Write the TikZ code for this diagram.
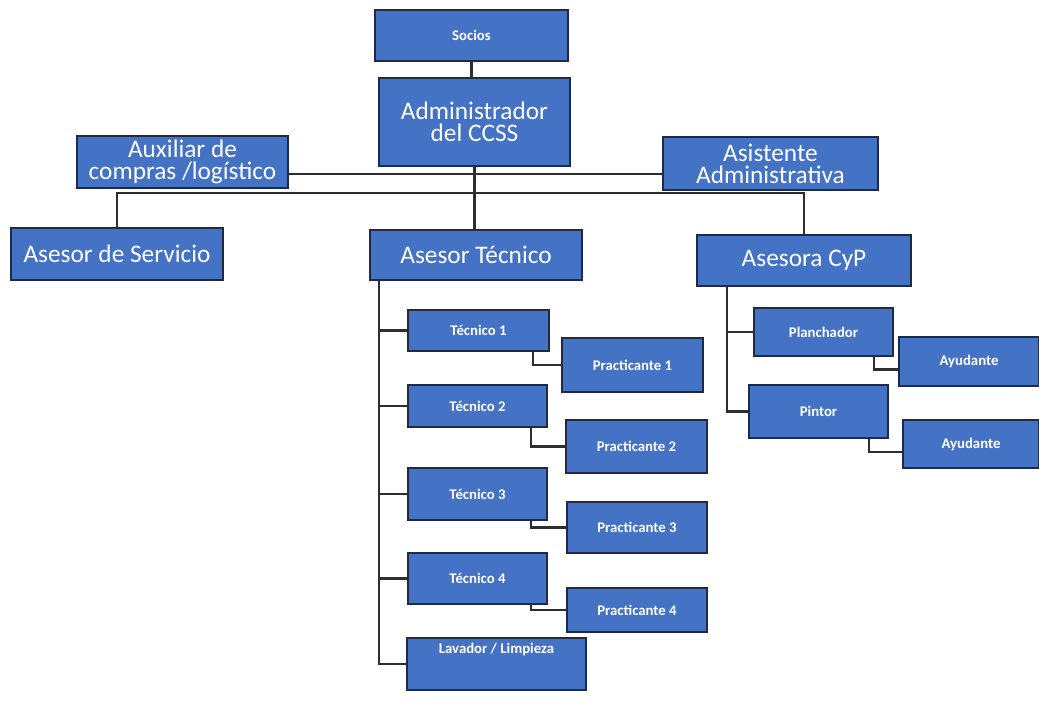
\documentclass[tikz,border=0pt]{standalone}
\usepackage{fontspec}
\setmainfont{Carlito}
\definecolor{cardblue}{HTML}{4472C4}
\definecolor{cardedge}{HTML}{1F2A44}
\definecolor{wire}{HTML}{2E2E2E}

\begin{document}
\begin{tikzpicture}[x=0.025cm, y=-0.025cm,
  card/.style={draw=cardedge, line width=1.3pt, fill=cardblue, text=white, inner sep=2pt, align=center},
  big/.style={card, inner sep=1pt, font=\fontsize{18}{15.5}\selectfont},
  small/.style={card, font=\fontsize{10.5}{12}\selectfont\bfseries},
  link/.style={draw=wire, line width=1.6pt}]
  \useasboundingbox (0,0) rectangle (1039,706);

  % upper levels
  \node[small, minimum width=4.825cm, minimum height=1.275cm] (socios) at (471.5,35.5) {Socios};
  \node[big, minimum width=4.775cm, minimum height=2.2cm] (admin) at (474.5,122) {Administrador\\del CCSS};
  \node[big, minimum width=5.275cm, minimum height=1.3cm] (aux) at (182.5,162) {Auxiliar de\\compras /logístico};
  \node[big, minimum width=5.375cm, minimum height=1.325cm] (asist) at (770.5,163.5) {Asistente\\Administrativa};
  \node[big, minimum width=5.3cm, minimum height=1.3cm] (ser) at (117,254) {Asesor de Servicio};
  \node[big, minimum width=5.3cm, minimum height=1.25cm] (tec) at (476,255) {Asesor Técnico};
  \node[big, minimum width=5.35cm, minimum height=1.275cm] (cyp) at (804,260.5) {Asesora CyP};

  % taller
  \node[small, minimum width=3.525cm, minimum height=1.025cm] (t1) at (478.5,330.5) {Técnico 1};
  \node[small, minimum width=3.525cm, minimum height=1.35cm] (p1) at (632.5,365) {Practicante 1};
  \node[small, minimum width=3.475cm, minimum height=1.05cm] (t2) at (477.5,406) {Técnico 2};
  \node[small, minimum width=3.525cm, minimum height=1.325cm] (p2) at (636.5,446.5) {Practicante 2};
  \node[small, minimum width=3.475cm, minimum height=1.3cm] (t3) at (477.5,494) {Técnico 3};
  \node[small, minimum width=3.5cm, minimum height=1.275cm] (p3) at (637,527.5) {Practicante 3};
  \node[small, minimum width=3.475cm, minimum height=1.275cm] (t4) at (477.5,578.5) {Técnico 4};
  \node[small, minimum width=3.5cm, minimum height=1.1cm] (p4) at (637,610) {Practicante 4};
  \node[small, minimum width=4.475cm, minimum height=1.3cm, text height=0.27cm, text depth=0.82cm] (lav) at (496.5,664) {Lavador / Limpieza};

  % carroceria y pintura
  \node[small, minimum width=3.475cm, minimum height=1.2cm] (planch) at (823.5,332) {Planchador};
  \node[small, minimum width=3.5cm, minimum height=1.225cm] (ay1) at (969,361.5) {Ayudante};
  \node[small, minimum width=3.475cm, minimum height=1.325cm] (pintor) at (818.5,411.5) {Pintor};
  \node[small, minimum width=3.4cm, minimum height=1.2cm] (ay2) at (971,444) {Ayudante};

  % connectors
  \coordinate (bus) at (475,193);
  \draw[link] (socios.south) -- (socios.south |- admin.north);
  \draw[link] ([yshift=-0.3cm]aux.east) -- ([yshift=-0.3cm]aux.east -| asist.west);
  \draw[link] (admin.south) -- (admin.south |- tec.north);
  \draw[link] (ser.north) |- (bus) -| (cyp.north);

  \draw[link] ([xshift=0.25cm]tec.south west) |- (lav.west);
  \foreach \t in {t1,t2,t3,t4}
    \draw[link] ([xshift=0.25cm]tec.south west |- \t.west) -- (\t.west);
  \foreach \t/\p in {t1/p1,t2/p2,t3/p3,t4/p4}
    \draw[link] ([xshift=-0.425cm]\t.south east) |- (\p.west);

  \draw[link] ([xshift=0.775cm]cyp.south west) |- (pintor.west);
  \draw[link] ([xshift=0.775cm]cyp.south west |- planch.west) -- (planch.west);
  \draw[link] ([xshift=-0.5cm]planch.south east) |- ([yshift=-0.2cm]ay1.west);
  \draw[link] ([xshift=-0.5cm]pintor.south east) |- ([yshift=-0.2cm]ay2.west);
\end{tikzpicture}
\end{document}
